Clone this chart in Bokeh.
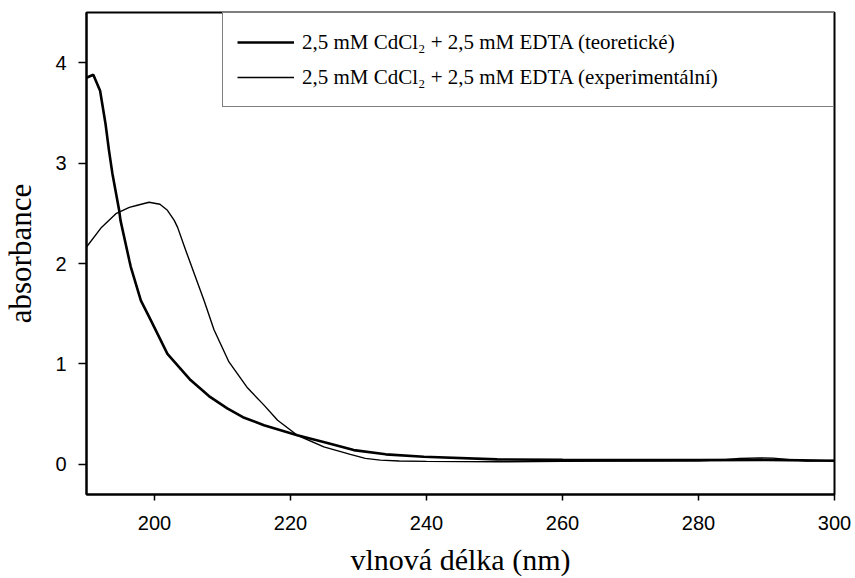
from bokeh.plotting import figure
from bokeh.models import Range1d, Legend, LegendItem, FixedTicker
from bokeh.embed import file_html
from bokeh.resources import INLINE

# Theoretical spectrum (thick line)
theo_x = [190, 191, 192, 192.8, 193.3, 193.8, 194.8, 195.0, 196.3, 196.5, 198.0, 199.45,
          201.9, 205.3, 208.0, 210.7, 213.0, 216.1, 221.0, 225.0, 229.3, 234.0, 239.6,
          250.4, 260, 270, 280, 290, 300]
theo_y = [3.85, 3.88, 3.72, 3.39, 3.13, 2.90, 2.53, 2.43, 2.03, 1.97, 1.63, 1.436,
          1.10, 0.84, 0.68, 0.557, 0.47, 0.39, 0.29, 0.22, 0.142, 0.10, 0.076,
          0.05, 0.045, 0.042, 0.042, 0.045, 0.036]

# Experimental spectrum (thin line)
exp_x = [190, 192.2, 194.4, 196.3, 197.2, 199.2, 200.8, 201.9, 202.9, 203.4, 204.6,
         205.3, 207.3, 208.75, 210.95, 213.7, 216.1, 218.1, 221.0, 224.9, 228.8,
         231.0, 233.2, 236.0, 240, 250.4, 260, 270, 280, 283.5, 286, 289, 291, 293, 296, 300]
exp_y = [2.165, 2.36, 2.50, 2.56, 2.575, 2.61, 2.59, 2.53, 2.43, 2.36, 2.13,
         2.0, 1.63, 1.34, 1.02, 0.76, 0.59, 0.44, 0.29, 0.175, 0.10,
         0.06, 0.042, 0.034, 0.03, 0.026, 0.03, 0.032, 0.036, 0.045, 0.058, 0.065, 0.062, 0.05, 0.032, 0.04]

x_ticks = [200, 220, 240, 260, 280, 300]
y_ticks = [0, 1, 2, 3, 4]

label_theo = "2,5 mM CdCl\u2082 + 2,5 mM EDTA (teoretické)"
label_exp = "2,5 mM CdCl\u2082 + 2,5 mM EDTA (experimentální)"
x_title = "vlnová délka (nm)"
y_title = "absorbance"

p = figure(width=855, height=578, output_backend="svg", toolbar_location=None,
           x_range=Range1d(190, 300), y_range=Range1d(-0.3, 4.5),
           min_border_left=86, min_border_right=21, min_border_top=12, min_border_bottom=84)

p.background_fill_color = "white"
p.border_fill_color = "white"
p.outline_line_color = "black"
p.outline_line_width = 2
p.xgrid.visible = False
p.ygrid.visible = False

r_theo = p.line(theo_x, theo_y, line_color="black", line_width=2.6)
r_exp = p.line(exp_x, exp_y, line_color="black", line_width=1.4)

for ax in (p.xaxis[0], p.yaxis[0]):
    ax.axis_line_color = "black"
    ax.axis_line_width = 2
    ax.major_tick_line_color = "black"
    ax.major_tick_line_width = 1.5
    ax.major_tick_in = 0
    ax.minor_tick_line_color = None
    ax.major_label_text_font = "Liberation Sans"
    ax.major_label_text_font_size = "20px"
    ax.major_label_text_color = "black"
    ax.axis_label_text_font = "Liberation Serif"
    ax.axis_label_text_font_style = "normal"
    ax.axis_label_text_color = "black"

p.xaxis[0].axis_label_text_font_size = "30px"
p.yaxis[0].axis_label_text_font_size = "31px"
p.xaxis[0].ticker = FixedTicker(ticks=x_ticks)
p.yaxis[0].ticker = FixedTicker(ticks=y_ticks)
p.xaxis[0].major_tick_out = 6
p.yaxis[0].major_tick_out = 8
p.xaxis[0].major_label_standoff = 15
p.yaxis[0].major_label_standoff = 12
p.xaxis[0].axis_label = x_title
p.yaxis[0].axis_label = y_title
p.xaxis[0].axis_label_standoff = 10
p.yaxis[0].axis_label_standoff = 14

legend = Legend(items=[LegendItem(label=label_theo, renderers=[r_theo]),
                       LegendItem(label=label_exp, renderers=[r_exp])],
                location="top_right", margin=0, padding=14, spacing=5,
                glyph_width=57, glyph_height=30, label_height=30, label_width=517,
                label_standoff=8,
                label_text_font="Liberation Serif", label_text_font_size="21px",
                label_text_color="black",
                border_line_color="black", border_line_width=1.5,
                background_fill_color="white", background_fill_alpha=1.0)
p.add_layout(legend, "center")

open("out.html", "w").write(file_html(p, INLINE))
